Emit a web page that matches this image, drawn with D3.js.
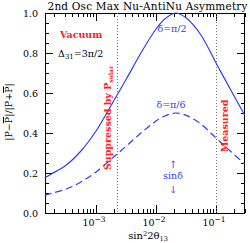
<!DOCTYPE html>
<html>
<head>
<meta charset="utf-8">
<script src="https://cdn.jsdelivr.net/npm/d3@7"></script>
<style>
  body { margin: 0; background: #fff; }
  text { font-family: "DejaVu Serif", serif; }
</style>
</head>
<body>
<div id="chart"></div>
<script>
// values
const sin2theta = [1.4e-4, 1.8e-4, 3.2e-4, 5.6e-4, 1e-3, 1.8e-3, 3.2e-3, 5.6e-3, 1e-2, 1.4e-2, 2.1e-2, 3.2e-2, 5.6e-2, 1e-1, 1.8e-1, 3e-1];
const asymPi2 = [0.177, 0.195, 0.24, 0.31, 0.41, 0.54, 0.67, 0.80, 0.92, 0.97, 1.0, 0.975, 0.89, 0.75, 0.61, 0.49];
const asymPi6 = [0.088, 0.098, 0.12, 0.155, 0.205, 0.27, 0.335, 0.40, 0.46, 0.485, 0.50, 0.488, 0.445, 0.375, 0.305, 0.245];
const dottedAt = [2.25e-3, 1e-1];
const yTicks = [0, 0.2, 0.4, 0.6, 0.8, 1.0];
const xDecades = [1e-3, 1e-2, 1e-1];
const xDecadeLabels = ["−3", "−2", "−1"];

(function() {
  const width = 250, height = 243;
  const left = 45, right = 245, top = 13, bottom = 213;
  const blue = "#2f3ff0", red = "#ff2020";

  const svg = d3.select("#chart").append("svg").attr("width", width).attr("height", height);

  const x = d3.scaleLog().domain([1.41e-4, 0.304]).range([left, right]);
  const y = d3.scaleLinear().domain([0, 1]).range([bottom, top]);

  // minor x ticks 2..9 per decade
  let xMinor = [];
  for (let e = -4; e <= -1; e++) {
    for (let m = 1; m <= 9; m++) {
      let v = m * Math.pow(10, e);
      if (v >= x.domain()[0] && v <= x.domain()[1]) xMinor.push(v);
    }
  }
  let yMinor = d3.range(0, 1.0001, 0.05);

  const ax = svg.append("g").attr("stroke", "#000").attr("stroke-width", 1);
  // x ticks, bottom and top, inward
  xMinor.forEach(v => {
    let len = xDecades.includes(v) ? 8 : 4;
    let px = Math.round(x(v)) + 0.5;
    ax.append("line").attr("x1", px).attr("x2", px).attr("y1", bottom).attr("y2", bottom - len);
    ax.append("line").attr("x1", px).attr("x2", px).attr("y1", top).attr("y2", top + len);
  });
  yMinor.forEach(v => {
    let major = Math.abs(v * 5 - Math.round(v * 5)) < 1e-6;
    let len = major ? 8 : 4;
    let py = Math.round(y(v)) + 0.5;
    ax.append("line").attr("x1", left).attr("x2", left + len).attr("y1", py).attr("y2", py);
    ax.append("line").attr("x1", right).attr("x2", right - len).attr("y1", py).attr("y2", py);
  });

  svg.append("rect").attr("x", left + 0.5).attr("y", top + 0.5)
    .attr("width", right - left - 1).attr("height", bottom - top)
    .attr("fill", "none").attr("stroke", "#000");

  // dotted markers
  dottedAt.forEach(v => {
    svg.append("line").attr("x1", Math.round(x(v)) + 0.5).attr("x2", Math.round(x(v)) + 0.5)
      .attr("y1", top).attr("y2", bottom)
      .attr("stroke", "#777").attr("stroke-dasharray", "1,2");
  });

  // tick labels
  yTicks.forEach(v => {
    svg.append("text").attr("x", 38).attr("y", y(v) + 3.5).attr("text-anchor", "end")
      .attr("font-size", 9.5).text(v.toFixed(1));
  });
  xDecades.forEach((v, i) => {
    let t = svg.append("text").attr("x", x(v) - 2).attr("y", 226).attr("text-anchor", "middle").attr("font-size", 9.5);
    t.append("tspan").text("10");
    t.append("tspan").attr("dy", -4).attr("font-size", 7.5).text(xDecadeLabels[i]);
  });

  // axis titles
  let xt = svg.append("text").attr("x", 148).attr("y", 239).attr("text-anchor", "middle").attr("font-size", 10);
  xt.append("tspan").text("sin");
  xt.append("tspan").attr("dy", -3.5).attr("font-size", 6.5).text("2");
  xt.append("tspan").attr("dy", 3.5).text("2θ");
  xt.append("tspan").attr("dy", 1.5).attr("font-size", 6.5).text("13");

  let yt = svg.append("text").attr("transform", "translate(12,112) rotate(-90)")
    .attr("text-anchor", "middle").attr("font-size", 9.5);
  yt.append("tspan").text("|P−");
  yt.append("tspan").attr("text-decoration", "overline").text("P");
  yt.append("tspan").text("|/|P+");
  yt.append("tspan").attr("text-decoration", "overline").text("P");
  yt.append("tspan").text("|");

  svg.append("text").attr("x", 147.5).attr("y", 10).attr("text-anchor", "middle")
    .attr("font-size", 10.5).attr("textLength", 200).attr("lengthAdjust", "spacing")
    .text("2nd Osc Max Nu-AntiNu Asymmetry");

  // curves
  const line = (vals) => d3.line().x((d, i) => x(sin2theta[i])).y(d => y(d))
    .curve(d3.curveCatmullRom)(vals);
  svg.append("path").attr("d", line(asymPi2)).attr("fill", "none").attr("stroke", blue).attr("stroke-width", 1.2);
  svg.append("path").attr("d", line(asymPi6)).attr("fill", "none").attr("stroke", blue).attr("stroke-width", 1.2)
    .attr("stroke-dasharray", "7,4");

  // annotations
  svg.append("text").attr("x", 60).attr("y", 38).attr("fill", red).attr("font-size", 9.5).attr("font-weight", "bold").text("Vacuum");
  let dl = svg.append("text").attr("x", 58).attr("y", 57).attr("font-size", 9.5);
  dl.append("tspan").text("Δ");
  dl.append("tspan").attr("dy", 2).attr("font-size", 7).text("31");
  dl.append("tspan").attr("dy", -2).text("=3π/2");

  svg.append("text").attr("x", 172).attr("y", 32).attr("text-anchor", "middle").attr("fill", blue).attr("font-size", 9.5).text("δ=π/2");
  svg.append("text").attr("x", 171).attr("y", 108).attr("text-anchor", "middle").attr("fill", blue).attr("font-size", 9.5).text("δ=π/6");

  let sp = svg.append("text").attr("transform", "translate(111,118) rotate(-90)").attr("text-anchor", "middle")
    .attr("fill", red).attr("font-size", 9.5).attr("font-weight", "bold");
  sp.append("tspan").text("Suppressed by P");
  sp.append("tspan").attr("dy", 2).attr("font-size", 6).text("solar");

  svg.append("text").attr("transform", "translate(228,126) rotate(-90)").attr("text-anchor", "middle")
    .attr("fill", red).attr("font-size", 9.5).attr("font-weight", "bold").text("Measured");

  svg.append("text").attr("x", 173).attr("y", 168).attr("text-anchor", "middle").attr("fill", blue).attr("font-size", 10).text("↑");
  svg.append("text").attr("x", 173).attr("y", 179).attr("text-anchor", "middle").attr("fill", blue).attr("font-size", 9.5).text("sinδ");
  svg.append("text").attr("x", 173).attr("y", 193).attr("text-anchor", "middle").attr("fill", blue).attr("font-size", 10).text("↓");
})();
</script>
</body>
</html>
